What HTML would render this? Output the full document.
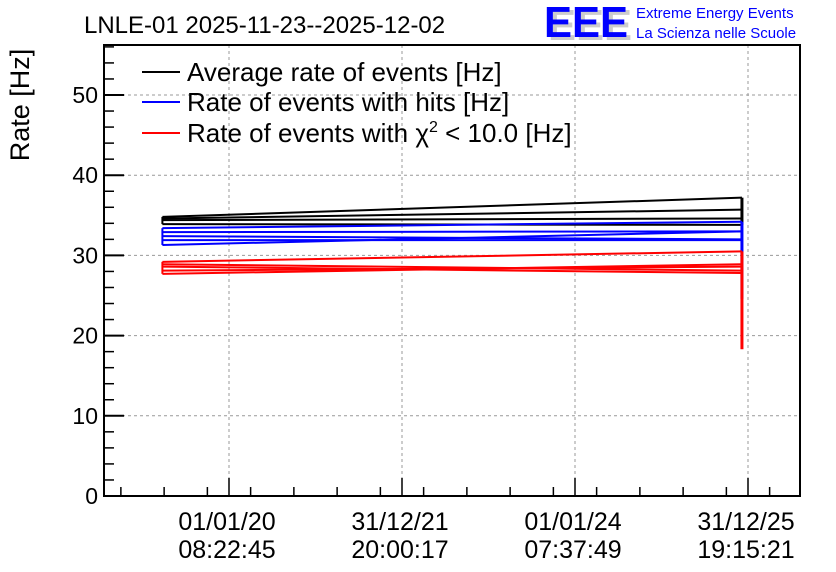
<!DOCTYPE html>
<html><head><meta charset="utf-8"><style>
body{margin:0;background:#fff;}
svg{display:block;font-family:"Liberation Sans",sans-serif;}
</style></head><body>
<svg id="c" width="836" height="572" viewBox="0 0 836 572">
<text x="84" y="33" font-size="24">LNLE-01 2025-11-23--2025-12-02</text>
<g>
<text x="548" y="40" font-size="44" font-weight="bold" fill="#ccc" textLength="84" lengthAdjust="spacingAndGlyphs">EEE</text>
<text x="544" y="37" font-size="44" font-weight="bold" fill="#0000ff" textLength="84" lengthAdjust="spacingAndGlyphs">EEE</text>
<text x="636" y="18" font-size="15" fill="#0000ff">Extreme Energy Events</text>
<text x="636" y="38" font-size="15" fill="#0000ff">La Scienza nelle Scuole</text>
</g>
<text transform="translate(29,105) rotate(-90)" font-size="27" text-anchor="middle">Rate [Hz]</text>
<g id="grid"></g><g id="series"></g><g id="axes"></g>
<g font-size="26">
<line x1="142" x2="180" y1="72" y2="72" stroke="#000" stroke-width="2"/><text x="187" y="81">Average rate of events [Hz]</text>
<line x1="142" x2="180" y1="102" y2="102" stroke="#00f" stroke-width="2"/><text x="187" y="111">Rate of events with hits [Hz]</text>
<line x1="142" x2="180" y1="133" y2="133" stroke="#f00" stroke-width="2"/><text x="187" y="142">Rate of events with χ<tspan font-size="16" dy="-10">2</tspan><tspan dy="10"> &lt; 10.0 [Hz]</tspan></text>
</g>
</svg>
<script>
// time in fractional years
const xStart = 2019.23, xEnd = 2025.93;
const blackStart = [34.8, 34.6, 34.4, 33.9];
const blackEnd   = [37.2, 35.7, 34.6, 33.8];
const blueStart  = [33.4, 32.9, 32.4, 31.9, 31.3];
const blueEnd    = [34.2, 33.0, 32.0, 31.9, 33.0];
const redStart   = [29.2, 28.9, 28.6, 28.1, 27.7];
const redEnd     = [30.5, 28.1, 27.8, 28.6, 28.9];
const blueDrop = 24.6, redDrop = 18.3;
const yTicks = [0,10,20,30,40,50];
const xTickVals = [2020.0, 2022.0, 2024.0, 2026.0];
const xTickLabels1 = ["01/01/20","31/12/21","01/01/24","31/12/25"];
const xTickLabels2 = ["08:22:45","20:00:17","07:37:49","19:15:21"];

const L=104,R=800,T=45,B=496;
const X = t => 229 + (t-2020)*86.5;
const Y = v => B - v*8.02;
const NS="http://www.w3.org/2000/svg";
function mk(tag,attrs,parent){const e=document.createElementNS(NS,tag);for(const k in attrs)e.setAttribute(k,attrs[k]);parent.appendChild(e);return e;}
const grid=document.getElementById('grid'), ser=document.getElementById('series'), ax=document.getElementById('axes');

yTicks.forEach((v,i)=>{
  if(v>0){const g=mk('line',{x1:L,x2:R,y1:Y(v),y2:Y(v),stroke:'#999','stroke-dasharray':'3,3'},grid);
  
  }
  mk('line',{x1:L,x2:L+20,y1:Y(v),y2:Y(v),stroke:'#000','stroke-width':2},ax);
  const t=mk('text',{x:L-6,y:Y(v)+8,'font-size':23,'text-anchor':'end'},ax);t.textContent=v;
  
  
  for(let m=1;m<5;m++){const mv=v+m*2;if(Y(mv)>T)mk('line',{x1:L,x2:L+10,y1:Y(mv),y2:Y(mv),stroke:'#000','stroke-width':1.5},ax);}
});
for(let t=2018.75;t<2026.6;t+=0.5){const x=X(t);if(x>L&&x<R)mk('line',{x1:x,x2:x,y1:B,y2:B-9,stroke:'#000','stroke-width':1.5},ax);}
xTickVals.forEach((t,i)=>{
  const x=X(t);
  const g=mk('line',{x1:x,x2:x,y1:T,y2:B,stroke:'#999','stroke-dasharray':'3,3'},grid);
  
  
  mk('line',{x1:x,x2:x,y1:B,y2:B-18,stroke:'#000','stroke-width':1.5},ax);
  const a=mk('text',{x:x-2,y:530,'font-size':25,'text-anchor':'middle'},ax);a.textContent=xTickLabels1[i];
  
  
  const b=mk('text',{x:x-2,y:558,'font-size':25,'text-anchor':'middle'},ax);b.textContent=xTickLabels2[i];
  
  
});
mk('rect',{x:L,y:T,width:R-L,height:B-T,fill:'none',stroke:'#000','stroke-width':2},ax);

function series(starts,ends,color,name,drop){
  starts.forEach((s,i)=>{
    const l=mk('line',{x1:X(xStart),y1:Y(s),x2:X(xEnd),y2:Y(ends[i]),stroke:color,'stroke-width':2},ser);
    
    
  });
  const lo=Math.min(...starts),hi=Math.max(...starts);
  mk('line',{x1:X(xStart),x2:X(xStart),y1:Y(hi),y2:Y(lo),stroke:color,'stroke-width':2},ser);
  const elo=drop!==undefined?drop:Math.min(...ends),ehi=Math.max(...ends);
  mk('line',{x1:X(xEnd),x2:X(xEnd),y1:Y(ehi),y2:Y(elo),stroke:color,'stroke-width':3},ser);
}
series(blackStart,blackEnd,'#000','average-rate');
series(blueStart,blueEnd,'#0000ff','hits-rate',blueDrop);
series(redStart,redEnd,'#ff0000','chi2-rate',redDrop);
</script>
</body></html>
